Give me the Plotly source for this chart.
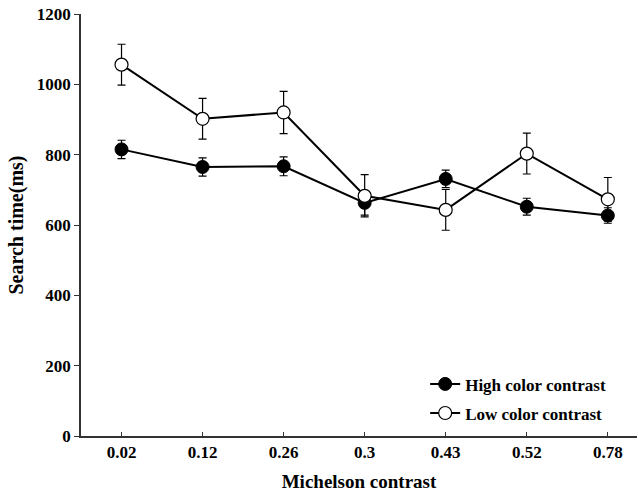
import plotly.graph_objects as go

categories = ["0.02", "0.12", "0.26", "0.3", "0.43", "0.52", "0.78"]
high_vals = [815, 765, 767, 663, 731, 652, 627]
high_err = [26, 26, 27, 35, 25, 24, 22]
low_vals = [1056, 902, 920, 683, 643, 803, 673]
low_err = [58, 58, 60, 60, 58, 58, 62]
y_ticks = [0, 200, 400, 600, 800, 1000, 1200]

font_family = "Liberation Serif, Times New Roman, serif"

fig = go.Figure()
fig.add_trace(go.Scatter(
    x=categories, y=high_vals, name="<b>High color contrast</b>",
    mode="lines+markers", legendgroup="h",
    line=dict(color="black", width=2),
    marker=dict(symbol="circle", size=13, color="black", line=dict(color="black", width=1)),
    error_y=dict(type="data", array=high_err, visible=True, color="black", thickness=1.2, width=4),
))
fig.add_trace(go.Scatter(
    x=categories, y=low_vals, name="<b>Low color contrast</b>",
    mode="lines+markers", legendgroup="l",
    line=dict(color="black", width=2),
    marker=dict(symbol="circle", size=13, color="white", line=dict(color="black", width=1.2)),
    error_y=dict(type="data", array=low_err, visible=True, color="black", thickness=1.2, width=4),
))

fig.update_layout(
    width=638, height=495,
    margin=dict(l=81, r=1, t=14, b=59),
    plot_bgcolor="white", paper_bgcolor="white",
    font=dict(family=font_family, color="black", size=17),
    showlegend=True,
    legend=dict(
        x=0.619, y=0.165, xanchor="left", yanchor="top",
        bgcolor="rgba(0,0,0,0)", font=dict(size=17, family=font_family),
        itemwidth=30, traceorder="grouped", tracegroupgap=4,
    ),
    xaxis=dict(
        type="category", categoryorder="array", categoryarray=categories,
        range=[-0.5, 6.36],
        showline=True, linecolor="#333", linewidth=1.5,
        ticks="inside", ticklen=4, tickcolor="#333",
        tickvals=categories, ticktext=[f"<b>{c}</b>" for c in categories],
        tickfont=dict(size=17),
        showgrid=False, zeroline=False,
        title=dict(text="<b>Michelson contrast</b>", font=dict(size=19), standoff=14),
    ),
    yaxis=dict(
        range=[0, 1200],
        showline=True, linecolor="#333", linewidth=1.5,
        ticks="outside", ticklen=5, tickcolor="#333",
        tickvals=y_ticks, ticktext=[f"<b>{t}</b>" for t in y_ticks],
        tickfont=dict(size=17),
        showgrid=False, zeroline=False,
        title=dict(text="<b>Search time(ms)</b>", font=dict(size=20), standoff=8),
    ),
)

fig.write_html("out.html")
